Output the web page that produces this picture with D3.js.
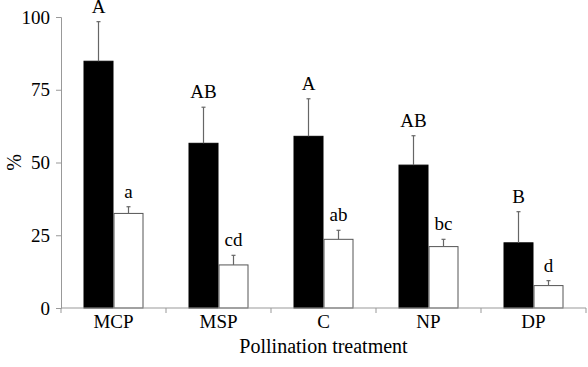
<!DOCTYPE html>
<html lang="en">
<head>
    <meta charset="UTF-8">
    <script src="https://cdnjs.cloudflare.com/ajax/libs/d3/7.8.5/d3.min.js"></script>
    <title>Pollination treatment</title>
    <style>
        body { margin: 0; background: #fff; }
        svg text { font-family: 'Liberation Serif', 'DejaVu Serif', 'Times New Roman', Times, serif !important; fill: #000; }
    </style>
</head>
<body>
    <script>
        // data
        var categories = ['MCP', 'MSP', 'C', 'NP', 'DP'];
        var series = ['black', 'white'];
        var blackValues = [84.8, 56.6, 59.0, 49.1, 22.4];
        var blackErr = [13.6, 12.4, 12.9, 10.1, 10.7];
        var blackLetters = ['A', 'AB', 'A', 'AB', 'B'];
        var whiteValues = [32.5, 14.8, 23.6, 21.1, 7.7];
        var whiteErr = [2.3, 3.3, 3.1, 2.5, 1.7];
        var whiteLetters = ['a', 'cd', 'ab', 'bc', 'd'];
        var yTicks = [0, 25, 50, 75, 100];

        function draw() {
            var width = 588, height = 367;
            var mLeft = 61, mRight = 586, mTop = 17, mBottom = 308;

            var svg = d3.select('body').append('svg')
                .attr('width', width)
                .attr('height', height);

            var x = d3.scaleBand().domain(categories).range([mLeft, mRight]).padding(0);
            var x1 = d3.scaleBand().domain(series).range([0, x.bandwidth()])
                .paddingInner(0).paddingOuter(0.75);
            var y = d3.scaleLinear().domain([0, 100]).range([mBottom, mTop]);

            var flat = [];
            categories.forEach(function (c, i) {
                flat.push({ cat: c, s: 'black', v: blackValues[i], e: blackErr[i], l: blackLetters[i] });
                flat.push({ cat: c, s: 'white', v: whiteValues[i], e: whiteErr[i], l: whiteLetters[i] });
            });
            function cx(d) { return x(d.cat) + x1(d.s) + x1.bandwidth() / 2; }

            // bars
            svg.selectAll('.bar')
                .data(flat)
                .enter().append('rect')
                .attr('class', 'bar')
                .attr('x', function (d) { return x(d.cat) + x1(d.s) + 0.5; })
                .attr('y', function (d) { return y(d.v); })
                .attr('width', x1.bandwidth() - 1)
                .attr('height', function (d) { return mBottom - y(d.v); })
                .attr('fill', function (d) { return d.s == 'black' ? '#000' : '#fff'; })
                .attr('stroke', function (d) { return d.s == 'black' ? '#000' : '#555'; })
                .attr('stroke-width', 1);

            // error bars (upper only)
            var err = svg.selectAll('.err')
                .data(flat)
                .enter().append('g')
                .attr('class', 'err')
                .attr('stroke', '#666')
                .attr('stroke-width', 1.2);
            err.append('line')
                .attr('x1', cx).attr('x2', cx)
                .attr('y1', function (d) { return y(d.v); })
                .attr('y2', function (d) { return y(d.v + d.e); });
            err.append('line')
                .attr('x1', function (d) { return cx(d) - 2; })
                .attr('x2', function (d) { return cx(d) + 2; })
                .attr('y1', function (d) { return y(d.v + d.e); })
                .attr('y2', function (d) { return y(d.v + d.e); });

            // letters
            svg.selectAll('.letter')
                .data(flat)
                .enter().append('text')
                .attr('class', 'letter')
                .attr('x', cx)
                .attr('y', function (d) { return y(d.v + d.e) - 9; })
                .attr('text-anchor', 'middle')
                .style('font-size', '19px')
                .text(function (d) { return d.l; });

            // y axis
            var yAxis = svg.append('g')
                .attr('transform', 'translate(' + mLeft + ',0)')
                .call(d3.axisLeft(y).tickValues(yTicks).tickSize(5).tickPadding(6));
            yAxis.attr('font-family', null).attr('font-size', null);
            yAxis.select('.domain').attr('stroke', '#999');
            yAxis.selectAll('.tick line').attr('stroke', '#999');
            yAxis.selectAll('.tick text').attr('fill', '#000').style('font-size', '19px');

            // x axis: ticks between categories
            var xAxis = svg.append('g')
                .attr('transform', 'translate(0,' + mBottom + ')');
            xAxis.append('line')
                .attr('x1', mLeft).attr('x2', mRight)
                .attr('stroke', '#999');
            var bounds = categories.map(function (c) { return x(c); }).concat([mRight]);
            xAxis.selectAll('.xt')
                .data(bounds)
                .enter().append('line')
                .attr('x1', function (d) { return d; })
                .attr('x2', function (d) { return d; })
                .attr('y1', 0).attr('y2', 5)
                .attr('stroke', '#999');
            xAxis.selectAll('.xl')
                .data(categories)
                .enter().append('text')
                .attr('x', function (d) { return x(d) + x.bandwidth() / 2; })
                .attr('y', 20)
                .attr('text-anchor', 'middle')
                .style('font-size', '19px')
                .text(function (d) { return d; });

            // axis titles
            svg.append('text')
                .attr('x', (mLeft + mRight) / 2)
                .attr('y', 353)
                .attr('text-anchor', 'middle')
                .style('font-size', '20px')
                .text('Pollination treatment');
            svg.append('text')
                .attr('transform', 'translate(21,' + (mTop + mBottom) / 2 + ') rotate(-90)')
                .attr('text-anchor', 'middle')
                .style('font-size', '20px')
                .text('%');
        }
        draw();
    </script>
</body>
</html>
